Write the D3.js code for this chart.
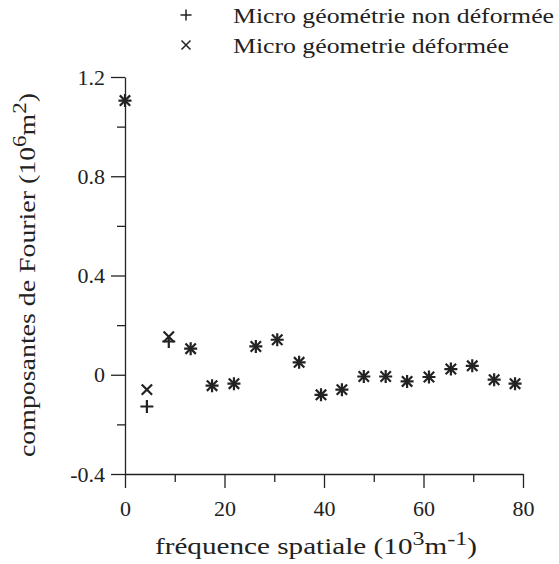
<!DOCTYPE html>
<html>
<head>
<meta charset="utf-8">
<script src="https://cdn.jsdelivr.net/npm/d3@7"></script>
<style>
  body { margin: 0; background: #fff; }
  svg text { font-family: "Liberation Serif", "Times New Roman", serif; }
</style>
</head>
<body>
<div id="chart"></div>
<script>
// spatial frequency (10^3 m^-1)
const freq = [0, 4.4, 8.8, 13.2, 17.5, 21.9, 26.3, 30.6, 35.0, 39.4, 43.6, 48.0, 52.4, 56.7, 61.1, 65.5, 69.8, 74.2, 78.4];
// Fourier components (10^6 m^2), undeformed micro geometry (+)
const nonDeformee = [1.105, -0.128, 0.134, 0.105, -0.044, -0.036, 0.114, 0.141, 0.05, -0.081, -0.06, -0.007, -0.007, -0.027, -0.009, 0.023, 0.036, -0.02, -0.036];
// deformed micro geometry (x)
const deformee = [1.105, -0.06, 0.153, 0.105, -0.044, -0.036, 0.114, 0.141, 0.05, -0.081, -0.06, -0.007, -0.007, -0.027, -0.009, 0.023, 0.036, -0.02, -0.036];

const xMajor = [0, 20, 40, 60, 80];
const xMinor = [10, 30, 50, 70];
const yMajor = [-0.4, 0, 0.4, 0.8, 1.2];
const yLabels = ["-0.4", "0", "0.4", "0.8", "1.2"];
const yMinor = [-0.2, 0.2, 0.6, 1.0];

const width = 559, height = 564;
const ink = "#222";
const serif = "'Liberation Serif', 'Times New Roman', serif";

const x = d3.scaleLinear().domain([0, 80]).range([125, 523]);
const y = d3.scaleLinear().domain([-0.4, 1.2]).range([474, 77]);

const svg = d3.select("#chart").append("svg")
    .attr("width", width)
    .attr("height", height);

// axes
svg.append("g")
    .attr("transform", `translate(0,${y(-0.4)})`)
    .call(d3.axisBottom(x).tickValues(xMinor).tickSize(8).tickSizeOuter(0).tickFormat(""))
    .call(g => g.select(".domain").remove());
svg.append("g")
    .attr("transform", `translate(0,${y(-0.4)})`)
    .call(d3.axisBottom(x).tickValues(xMajor).tickSize(14).tickSizeOuter(0).tickPadding(12).tickFormat(d => d));

svg.append("g")
    .attr("transform", `translate(${x(0)},0)`)
    .call(d3.axisLeft(y).tickValues(yMinor).tickSize(8).tickSizeOuter(0).tickFormat(""))
    .call(g => g.select(".domain").remove());
svg.append("g")
    .attr("transform", `translate(${x(0)},0)`)
    .call(d3.axisLeft(y).tickValues(yMajor).tickSize(14).tickSizeOuter(0).tickPadding(6)
      .tickFormat((d, i) => yLabels[i]));

svg.selectAll("g").attr("font-family", serif);
svg.selectAll(".domain, .tick line")
    .attr("stroke", ink)
    .attr("stroke-width", 1.3);
svg.selectAll(".tick text")
    .attr("fill", ink)
    .attr("font-size", 22);

// marker shapes
const plusPath = r => `M${-r},0H${r}M0,${-r}V${r}`;
const crossPath = r => `M${-r},${-r}L${r},${r}M${-r},${r}L${r},${-r}`;

const pts1 = freq.map((f, i) => ({ f, v: nonDeformee[i] }));
const pts2 = freq.map((f, i) => ({ f, v: deformee[i] }));

svg.append("g")
  .selectAll("path")
  .data(pts1)
  .join("path")
    .attr("transform", d => `translate(${x(d.f)},${y(d.v)})`)
    .attr("d", plusPath(6.5))
    .attr("stroke", ink)
    .attr("stroke-width", 2.2)
    .attr("fill", "none");

svg.append("g")
  .selectAll("path")
  .data(pts2)
  .join("path")
    .attr("transform", d => `translate(${x(d.f)},${y(d.v)})`)
    .attr("d", crossPath(5.2))
    .attr("stroke", ink)
    .attr("stroke-width", 2.2)
    .attr("fill", "none");

// legend
const legend = [
  { label: "Micro géométrie non déformée", shape: plusPath(5.5), y: 15, len: 321 },
  { label: "Micro géometrie déformée", shape: crossPath(4.5), y: 45, len: 276 }
];
const lg = svg.append("g").selectAll("g").data(legend).join("g")
    .attr("transform", d => `translate(186,${d.y})`);
lg.append("path")
    .attr("d", d => d.shape)
    .attr("stroke", ink)
    .attr("stroke-width", 1.5)
    .attr("fill", "none");
lg.append("text")
    .attr("x", 47)
    .attr("y", 8)
    .attr("font-size", 21)
    .attr("fill", ink)
    .attr("textLength", d => d.len)
    .attr("lengthAdjust", "spacingAndGlyphs")
    .text(d => d.label);

// axis titles
const xt = svg.append("text")
    .attr("x", 155)
    .attr("y", 554)
    .attr("font-size", 23)
    .attr("fill", ink)
    .attr("textLength", 322)
    .attr("lengthAdjust", "spacingAndGlyphs");
xt.append("tspan").text("fréquence spatiale (10");
xt.append("tspan").attr("dy", -9).attr("font-size", 19).text("3");
xt.append("tspan").attr("dy", 9).text("m");
xt.append("tspan").attr("dy", -9).attr("font-size", 19).text("-1");
xt.append("tspan").attr("dy", 9).text(")");

const yt = svg.append("text")
    .attr("transform", `translate(35,457) rotate(-90)`)
    .attr("font-size", 23)
    .attr("fill", ink)
    .attr("textLength", 364)
    .attr("lengthAdjust", "spacingAndGlyphs");
yt.append("tspan").text("composantes de Fourier (10");
yt.append("tspan").attr("dy", -9).attr("font-size", 19).text("6");
yt.append("tspan").attr("dy", 9).text("m");
yt.append("tspan").attr("dy", -9).attr("font-size", 19).text("2");
yt.append("tspan").attr("dy", 9).text(")");
</script>
</body>
</html>
